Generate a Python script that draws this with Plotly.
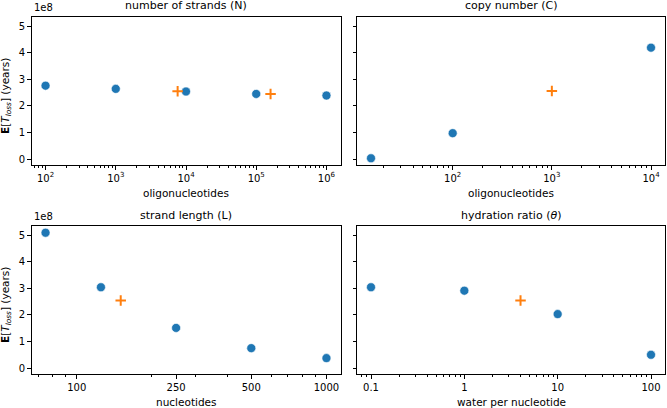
import numpy as np
import plotly.graph_objects as go

W, H = 667, 408

# ---------------- data ----------------
strands_x = [1e2, 1e3, 1e4, 1e5, 1e6]
strands_y = [2.76e8, 2.64e8, 2.54e8, 2.45e8, 2.39e8]
strands_ref_x = [7.6e3, 1.6e5]
strands_ref_y = [2.55e8, 2.45e8]

copy_x = [15, 100, 10000]
copy_y = [0.03e8, 0.975e8, 4.19e8]
copy_ref_x = [1000]
copy_ref_y = [2.56e8]

length_x = [75, 125, 250, 500, 1000]
length_y = [5.09e8, 3.04e8, 1.51e8, 0.75e8, 0.375e8]
length_ref_x = [150]
length_ref_y = [2.54e8]

hydr_x = [0.1, 1, 10, 100]
hydr_y = [3.04e8, 2.91e8, 2.03e8, 0.50e8]
hydr_ref_x = [4]
hydr_ref_y = [2.54e8]

titles = ["number of strands (N)", "copy number (C)", "strand length (L)", "hydration ratio (<i>θ</i>)"]
xlabels = ["oligonucleotides", "oligonucleotides", "nucleotides", "water per nucleotide"]
ytick_vals = [0, 1e8, 2e8, 3e8, 4e8, 5e8]
ytick_text = ["0", "1", "2", "3", "4", "5"]

xt_strands = [1e2, 1e3, 1e4, 1e5, 1e6]
xt_strands_text = ["10<sup>2</sup>", "10<sup>3</sup>", "10<sup>4</sup>", "10<sup>5</sup>", "10<sup>6</sup>"]
xt_copy = [1e2, 1e3, 1e4]
xt_copy_text = ["10<sup>2</sup>", "10<sup>3</sup>", "10<sup>4</sup>"]
xt_length = [100, 250, 500, 1000]
xt_length_text = ["100", "250", "500", "1000"]
xt_hydr = [0.1, 1, 10, 100]
xt_hydr_text = ["0.1", "1", "10", "100"]

panels = [
    (strands_x, strands_y, strands_ref_x, strands_ref_y, xt_strands, xt_strands_text),
    (copy_x, copy_y, copy_ref_x, copy_ref_y, xt_copy, xt_copy_text),
    (length_x, length_y, length_ref_x, length_ref_y, xt_length, xt_length_text),
    (hydr_x, hydr_y, hydr_ref_x, hydr_ref_y, xt_hydr, xt_hydr_text),
]

# ---------------- layout geometry (pixels) ----------------
boxes = [
    (31.5, 340.5, 17, 165),
    (357, 665, 17, 165),
    (31.5, 340.5, 226, 374),
    (357, 665, 226, 374),
]

BLUE = "#1f77b4"
ORANGE = "#ff7f0e"
FONT = "DejaVu Sans"


def px_x(x):
    return x / W


def px_y(y):
    return 1 - y / H


def margin_range(vals, log=False):
    v = np.log10(vals) if log else np.asarray(vals, dtype=float)
    lo, hi = float(np.min(v)), float(np.max(v))
    m = 0.05 * (hi - lo)
    return [lo - m, hi + m]


def minor_ticks(rng, majors):
    out = []
    for d in range(int(np.floor(rng[0])) - 1, int(np.ceil(rng[1])) + 1):
        for k in range(1, 10):
            v = k * 10.0 ** d
            lv = np.log10(v)
            if rng[0] <= lv <= rng[1] and not any(abs(v - mj) / mj < 1e-9 for mj in majors):
                out.append(v)
    return out


all_y = strands_y + strands_ref_y + copy_y + copy_ref_y + length_y + length_ref_y + hydr_y + hydr_ref_y
yrange = margin_range(all_y)

fig = go.Figure()
annotations = []
layout = dict(
    width=W, height=H,
    margin=dict(l=0, r=0, t=0, b=0),
    template="none",
    paper_bgcolor="white",
    plot_bgcolor="white",
    showlegend=False,
    font=dict(family=FONT, size=10, color="black"),
)

for i, (px_, py_, rx, ry, xt, xtt) in enumerate(panels):
    n = i + 1
    sfx = "" if n == 1 else str(n)
    x0, x1, y0, y1 = boxes[i]
    xr = margin_range(list(px_) + list(rx), log=True)
    fig.add_trace(go.Scatter(
        x=px_, y=py_, mode="markers", xaxis="x" + sfx, yaxis="y" + sfx,
        marker=dict(symbol="circle", size=9, color=BLUE, line=dict(color="white", width=0.6)),
    ))
    fig.add_trace(go.Scatter(
        x=rx, y=ry, mode="markers", xaxis="x" + sfx, yaxis="y" + sfx,
        marker=dict(symbol="cross-thin", size=7.5, color=ORANGE, line=dict(color=ORANGE, width=2)),
    ))
    common = dict(
        showline=True, linecolor="black", linewidth=1, mirror=True,
        ticks="outside", ticklen=3.5, tickwidth=0.8, tickcolor="black",
        showgrid=False, zeroline=False, automargin=False,
        tickfont=dict(family=FONT, size=10, color="black"),
    )
    layout["xaxis" + sfx] = dict(
        common, type="log", range=xr,
        domain=[px_x(x0), px_x(x1)], anchor="y" + sfx,
        tickmode="array", tickvals=xt, ticktext=xtt,
        minor=dict(ticks="outside", ticklen=2, tickwidth=0.6, tickcolor="black",
                   tickmode="array", tickvals=minor_ticks(xr, xt), showgrid=False),
    )
    layout["yaxis" + sfx] = dict(
        common, range=yrange,
        domain=[px_y(y1), px_y(y0)], anchor="x" + sfx,
        tickmode="array", tickvals=ytick_vals, ticktext=ytick_text,
        showticklabels=(i % 2 == 0),
    )
    # title
    annotations.append(dict(
        text=titles[i], x=px_x((x0 + x1) / 2), y=px_y(y0 - 2.5), xref="paper", yref="paper",
        xanchor="center", yanchor="bottom", showarrow=False,
        font=dict(family=FONT, size=11, color="black"),
    ))
    # x label
    annotations.append(dict(
        text=xlabels[i], x=px_x((x0 + x1) / 2), y=px_y(y1 + 28), xref="paper", yref="paper",
        xanchor="center", yanchor="middle", showarrow=False,
        font=dict(family=FONT, size=10.5, color="black"),
    ))
    if i % 2 == 0:
        annotations.append(dict(
            text="1e8", x=px_x(x0), y=px_y(y0 - 2), xref="paper", yref="paper",
            xanchor="left", yanchor="bottom", showarrow=False,
            font=dict(family=FONT, size=10, color="black"),
        ))
        annotations.append(dict(
            text="<b>E</b>[<i>T</i><sub><i>loss</i></sub>] (years)",
            x=px_x(6), y=px_y((y0 + y1) / 2 + 5), xref="paper", yref="paper",
            xanchor="center", yanchor="middle", textangle=-90, showarrow=False,
            font=dict(family=FONT, size=10.5, color="black"),
        ))

layout["annotations"] = annotations
fig.update_layout(**layout)
fig.write_html(
    "out.html",
    config={"displayModeBar": False},
    post_script="document.body.style.margin='0';document.body.style.padding='0';document.body.style.overflow='hidden';",
)
